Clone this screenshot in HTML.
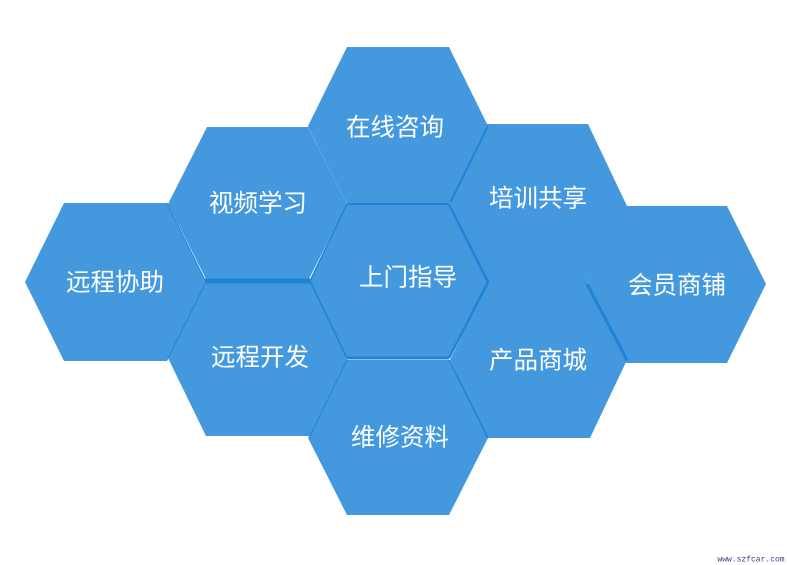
<!DOCTYPE html>
<html><head><meta charset="utf-8"><style>
html,body{margin:0;padding:0;background:#fff;}
svg{display:block;}
text{font-family:"Liberation Sans","Noto Sans CJK SC",sans-serif;font-size:24.5px;fill:#fff;text-anchor:middle;dominant-baseline:central;}
</style></head><body>
<svg width="787" height="565" viewBox="0 0 787 565" xmlns="http://www.w3.org/2000/svg">
<g fill="#4499de">
<polygon points="25,282 64,203 167,203 206,282 167,361 64,361"/>
<polygon points="168,204 207,127 308,127 347,204 308,281 207,281"/>
<polygon points="308,126 347,47 449,47 488,126 449,204 347,204"/>
<polygon points="310,281 347,203 449,203 488,282 449,358 347,358"/>
<polygon points="168,358 206,282 310,282 348,358 310,436 206,436"/>
<polygon points="308,438 347,360 449,360 488,438 449,515 347,515"/>
<polygon points="450,203 487,124 588,124 627,206 587,284 627,360 590,438 487,438 450,360 488,282"/>
<polygon points="587,284 626,206 727,206 766,284 727,363 626,363"/>
</g>
<g stroke="#1f84d8" fill="none">
<line x1="205" y1="281" x2="310" y2="281" stroke-width="5"/>
<line x1="347" y1="204" x2="449" y2="204" stroke-width="2"/>
<line x1="347" y1="358" x2="449" y2="358" stroke-width="3"/>
<polyline points="449,204 488,282 449,358" stroke-width="2.5"/>
<polyline points="347,204 310,281 347,358" stroke-width="1.5"/>
<polyline points="488,126 450,203" stroke-width="2"/>
<polyline points="587,284 627,360" stroke-width="3"/>
<polyline points="206,282 168,358" stroke-width="1"/>
<polyline points="167,203 206,282" stroke-width="1"/>
<polyline points="449,360 488,438" stroke-width="1.5"/>
<polyline points="347,360 310,436" stroke-width="1"/>
</g>
<line x1="308" y1="127" x2="347" y2="204" stroke="#5aa6e4" stroke-width="1"/>
<text x="115" y="283">远程协助</text>
<text x="258" y="204">视频学习</text>
<text x="395" y="128">在线咨询</text>
<text x="408" y="278">上门指导</text>
<text x="538" y="199">培训共享</text>
<text x="677" y="286">会员商铺</text>
<text x="538" y="361">产品商城</text>
<text x="260" y="358">远程开发</text>
<text x="400" y="438">维修资料</text>
<text x="751" y="560" style="font-family:'Liberation Mono',monospace;font-size:8px;fill:#334488;">www.szfcar.com</text>
</svg>
</body></html>
